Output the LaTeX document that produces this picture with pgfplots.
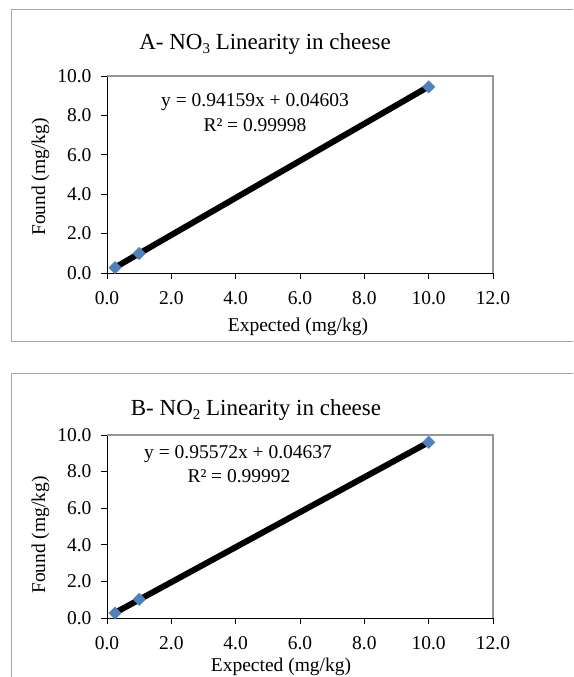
\documentclass[border=0pt]{standalone}
\usepackage{fontspec}
\setmainfont{Liberation Serif}
\usepackage{pgfplots}
\pgfplotsset{compat=1.18}
\definecolor{markblue}{HTML}{4F81BD}
\definecolor{framegray}{HTML}{A6A6A6}
\definecolor{boxgray}{HTML}{979797}

\newcommand{\lbl}{\fontsize{19.5}{22}\selectfont}
\newcommand{\ttl}{\fontsize{23}{26}\selectfont}
\newcommand{\sub}[1]{\raisebox{-0.45ex}{\fontsize{15}{17}\selectfont #1}}

\pgfplotsset{
  lin/.style={
    scale only axis,
    width=386pt,
    anchor=south west,
    xmin=0, xmax=12, ymin=0, ymax=10,
    xtick={0,2,...,12}, ytick={0,2,...,10},
    axis x line*=bottom, axis y line*=left,
    axis line style={black, line width=0.8pt},
    tick align=outside,
    major tick length=6pt,
    tick style={black, line width=0.8pt},
    ticklabel style={font=\lbl},
    xticklabel style={yshift=-9pt},
    yticklabel style={xshift=-6pt},
    /pgf/number format/fixed,
    /pgf/number format/fixed zerofill,
    /pgf/number format/precision=1,
    /pgf/number format/assume math mode=true,
    clip=false,
  },
  pts/.style={only marks, mark=square*, mark size=4.4pt,
    mark options={rotate=45, fill=markblue, draw=markblue}},
  fit/.style={no markers, black, line width=6pt, line cap=round},
}

\begin{document}
\begin{tikzpicture}
\path[use as bounding box] (0,0) rectangle (573pt,-677pt);
\clip (0,0) rectangle (573pt,-677pt);

% panel frames
\draw[framegray, line width=1pt] (600pt,-10pt) -- (11pt,-10pt) -- (11pt,-341pt) -- (600pt,-341pt);
\draw[framegray, line width=1pt] (600pt,-373pt) -- (11pt,-373pt) -- (11pt,-700pt);

% A - NO3
\begin{axis}[lin, height=197pt, at={(107pt,-273pt)}]
\draw[boxgray, line width=1.5pt] (rel axis cs:0,1) -- (rel axis cs:1,1) -- (rel axis cs:1,0);
\addplot[pts] coordinates {(0.25,0.27) (1.0,0.99) (10.0,9.45)};
\addplot[fit] coordinates {(0.25,0.281) (10.0,9.462)};
\end{axis}
\node[anchor=base, font=\ttl] at (265pt,-49pt) {A- NO\sub{3} Linearity in cheese};
\node[anchor=base, font=\lbl] at (255pt,-106pt) {y = 0.94159x + 0.04603};
\node[anchor=base, font=\lbl] at (255pt,-131pt) {R² = 0.99998};
\node[anchor=base, font=\lbl] at (298pt,-331pt) {Expected (mg/kg)};
\node[anchor=base, rotate=90, font=\lbl] at (45pt,-177pt) {Found (mg/kg)};

% B - NO2
\begin{axis}[lin, height=183pt, at={(107pt,-618pt)}]
\draw[boxgray, line width=1.5pt] (rel axis cs:0,1) -- (rel axis cs:1,1) -- (rel axis cs:1,0);
\addplot[pts] coordinates {(0.25,0.27) (1.0,1.02) (10.0,9.60)};
\addplot[fit] coordinates {(0.25,0.285) (10.0,9.604)};
\end{axis}
\node[anchor=base, font=\ttl] at (256pt,-415pt) {B- NO\sub{2} Linearity in cheese};
\node[anchor=base, font=\lbl] at (238pt,-458pt) {y = 0.95572x + 0.04637};
\node[anchor=base, font=\lbl] at (239pt,-482pt) {R² = 0.99992};
\node[anchor=base, font=\lbl] at (281pt,-671pt) {Expected (mg/kg)};
\node[anchor=base, rotate=90, font=\lbl] at (45pt,-535pt) {Found (mg/kg)};
\end{tikzpicture}
\end{document}
